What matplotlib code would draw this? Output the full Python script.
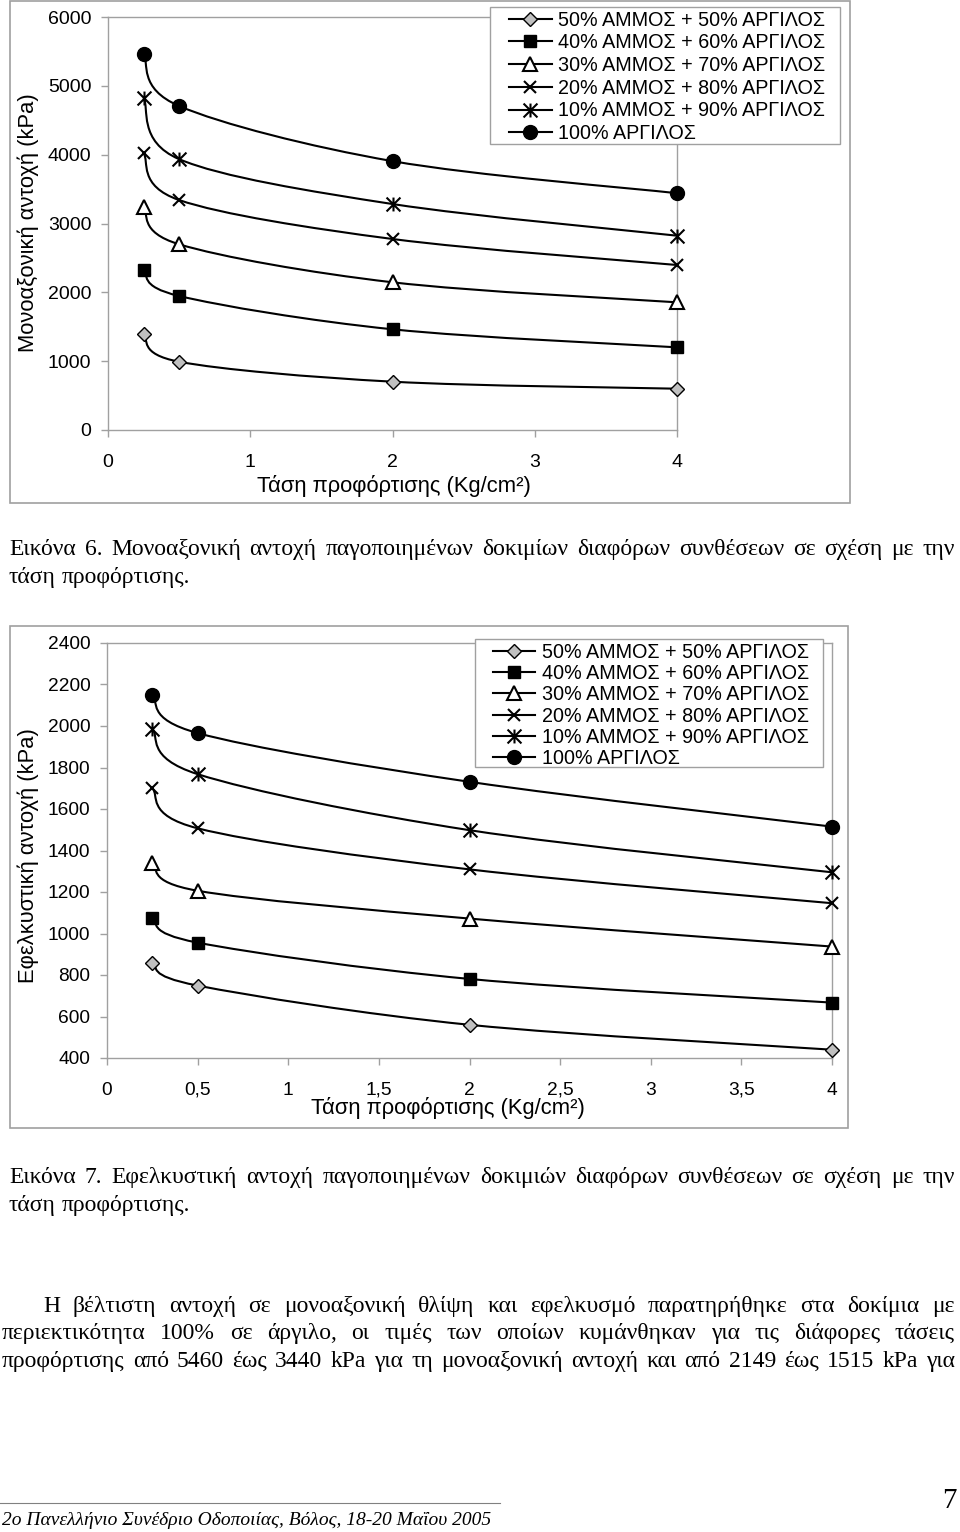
import numpy as np
import matplotlib.pyplot as plt
from matplotlib.path import Path
from matplotlib.patches import PathPatch, Rectangle
from matplotlib.lines import Line2D

plt.rcParams['font.family'] = ['Liberation Sans', 'DejaVu Sans']

# τάση προφόρτισης (Kg/cm2)
x_top = [0.25, 0.5, 2, 4]
x_bot = [0.25, 0.5, 2, 4]

labels = ['50% ΑΜΜΟΣ + 50% ΑΡΓΙΛΟΣ', '40% ΑΜΜΟΣ + 60% ΑΡΓΙΛΟΣ',
          '30% ΑΜΜΟΣ + 70% ΑΡΓΙΛΟΣ', '20% ΑΜΜΟΣ + 80% ΑΡΓΙΛΟΣ',
          '10% ΑΜΜΟΣ + 90% ΑΡΓΙΛΟΣ', '100% ΑΡΓΙΛΟΣ']

# μονοαξονική αντοχή (kPa)
uc_50 = [1390, 992, 702, 600]
uc_40 = [2324, 1947, 1463, 1201]
uc_30 = [3240, 2698, 2146, 1855]
uc_20 = [4020, 3341, 2775, 2397]
uc_10 = [4828, 3935, 3283, 2823]
uc_100 = [5460, 4707, 3906, 3440]

# εφελκυστική αντοχή (kPa)
t_50 = [857, 749, 560, 440]
t_40 = [1074, 956, 781, 667]
t_30 = [1341, 1206, 1072, 937]
t_20 = [1699, 1507, 1309, 1146]
t_10 = [1986, 1768, 1498, 1295]
t_100 = [2149, 1966, 1731, 1515]

star = Path([(0, -1), (0, 1), (-1, -1), (1, 1), (-1, 1), (1, -1)],
            [Path.MOVETO, Path.LINETO, Path.MOVETO, Path.LINETO, Path.MOVETO, Path.LINETO])
styles = [dict(marker='D', ms=7.5, mfc='#c0c0c0', mec='k', mew=1.0),
          dict(marker='s', ms=9, mfc='k', mec='k', mew=1.0),
          dict(marker='^', ms=10, mfc='white', mec='k', mew=1.5),
          dict(marker='x', ms=9, mfc='k', mec='k', mew=1.5),
          dict(marker=star, ms=10, mfc='k', mec='k', mew=1.5),
          dict(marker='o', ms=10, mfc='k', mec='k', mew=1.0)]

W, H = 960, 1532
fig = plt.figure(figsize=(W / 100, H / 100), dpi=100)
bg = fig.add_axes([0, 0, 1, 1], zorder=0)
bg.set_xlim(0, W)
bg.set_ylim(H, 0)
bg.axis('off')
# επικάλυψη για τα υπομνήματα
ov = fig.add_axes([0, 0, 1, 1], zorder=3)
ov.set_xlim(0, W)
ov.set_ylim(H, 0)
ov.axis('off')


def smooth(ax, xs, ys):
    # καμπύλη τύπου Excel (Catmull-Rom -> Bezier)
    p = np.column_stack([xs, ys]).astype(float)
    p = np.vstack([p[0], p, p[-1]])
    verts = [tuple(p[1])]
    codes = [Path.MOVETO]
    for i in range(1, len(p) - 2):
        c1 = p[i] + (p[i + 1] - p[i - 1]) / 6
        c2 = p[i + 1] - (p[i + 2] - p[i]) / 6
        verts += [tuple(c1), tuple(c2), tuple(p[i + 1])]
        codes += [Path.CURVE4] * 3
    ax.add_patch(PathPatch(Path(verts, codes), fill=False, lw=1.5, ec='k', zorder=3))


def px_axes(l, t, r, b):
    return fig.add_axes([l / W, 1 - b / H, (r - l) / W, (b - t) / H], zorder=1)


def style_axes(ax, fs):
    for s in ax.spines.values():
        s.set_color('#a0a0a0')
        s.set_linewidth(1.0)
    ax.tick_params(direction='out', length=5, width=1.0, color='#a0a0a0',
                   labelsize=fs, pad=7)
    ax.tick_params(axis='x', pad=12)


def draw_chart(ax, xs, series):
    for ys, st in zip(series, styles):
        smooth(ax, xs, ys)
        ax.plot(xs, ys, ls='none', zorder=4, clip_on=False, **st)


handles = [Line2D([], [], color='k', lw=1.5, **st) for st in styles]

# ---- Εικόνα 6 ----
bg.add_patch(Rectangle((10, 1), 840, 502, fill=False, ec='#a0a0a0', lw=1.2))
ax1 = px_axes(108, 17, 677, 430)
draw_chart(ax1, x_top, [uc_50, uc_40, uc_30, uc_20, uc_10, uc_100])
ax1.set_xlim(0, 4)
ax1.set_ylim(0, 6000)
ax1.set_xticks([0, 1, 2, 3, 4])
ax1.set_yticks(range(0, 6001, 1000))
style_axes(ax1, 14)
bg.text(28, 223, 'Μονοαξονική αντοχή (kPa)', rotation=90, fontsize=15.8,
        ha='center', va='center')
bg.text(394, 486, 'Τάση προφόρτισης (Kg/cm²)', fontsize=15.8, ha='center', va='center')

ov.add_patch(Rectangle((490, 7), 350, 137, fc='white', ec='#a0a0a0', lw=1.0, zorder=1))
leg1 = ov.legend(handles, labels, loc='upper left', bbox_to_anchor=(509 / W, 1 - 10.5 / H),
                 bbox_transform=fig.transFigure, frameon=False, fontsize=14.2,
                 borderpad=0, borderaxespad=0, handlelength=2.18, handletextpad=0.3,
                 labelspacing=0.19)
ov.add_artist(leg1)

# ---- Εικόνα 7 ----
bg.add_patch(Rectangle((10, 626), 838, 502, fill=False, ec='#a0a0a0', lw=1.2))
ax2 = px_axes(107, 643, 832, 1058)
draw_chart(ax2, x_bot, [t_50, t_40, t_30, t_20, t_10, t_100])
ax2.set_xlim(0, 4)
ax2.set_ylim(400, 2400)
ax2.set_xticks(np.arange(0, 4.01, 0.5))
ax2.set_xticklabels(['0', '0,5', '1', '1,5', '2', '2,5', '3', '3,5', '4'])
ax2.set_yticks(range(400, 2401, 200))
style_axes(ax2, 13.8)
bg.text(28, 856, 'Εφελκυστική αντοχή (kPa)', rotation=90, fontsize=15.8,
        ha='center', va='center')
bg.text(448, 1108, 'Τάση προφόρτισης (Kg/cm²)', fontsize=15.8, ha='center', va='center')

ov.add_patch(Rectangle((475, 639), 348, 128, fc='white', ec='#a0a0a0', lw=1.0, zorder=1))
leg2 = ov.legend(handles, labels, loc='upper left', bbox_to_anchor=(493 / W, 1 - 642.5 / H),
                 bbox_transform=fig.transFigure, frameon=False, fontsize=14.2,
                 borderpad=0, borderaxespad=0, handlelength=2.13, handletextpad=0.35,
                 labelspacing=0.12)

# ---- κείμενο σελίδας ----
renderer = fig.canvas.get_renderer()
SERIF = 'Liberation Serif'
FS = 17


def line_text(words_line, y, x0, x1, fs=FS, justify=True):
    # y: κέντρο γραμμής, κείμενο στη γραμμή βάσης
    base = y + 6
    words = words_line.split(' ')
    ts = [bg.text(0, base, w, fontsize=fs, family=SERIF, va='baseline') for w in words]
    ws = [t.get_window_extent(renderer).width for t in ts]
    if justify and len(words) > 1:
        gap = (x1 - x0 - sum(ws)) / (len(words) - 1)
    else:
        gap = fs * 100 / 72 * 0.25
    x = x0
    for t, w in zip(ts, ws):
        t.set_x(x)
        x += w + gap


line_text('Εικόνα 6. Μονοαξονική αντοχή παγοποιημένων δοκιμίων διαφόρων συνθέσεων σε σχέση με την',
          549, 9, 955)
line_text('τάση προφόρτισης.', 577, 9, 955, justify=False)
line_text('Εικόνα 7. Εφελκυστική αντοχή παγοποιημένων δοκιμιών διαφόρων συνθέσεων σε σχέση με την',
          1177, 9, 955)
line_text('τάση προφόρτισης.', 1205, 9, 955, justify=False)

line_text('Η βέλτιστη αντοχή σε μονοαξονική θλίψη και εφελκυσμό παρατηρήθηκε στα δοκίμια με',
          1306, 43, 955)
line_text('περιεκτικότητα 100% σε άργιλο, οι τιμές των οποίων κυμάνθηκαν για τις διάφορες τάσεις',
          1333, 2, 955)
line_text('προφόρτισης από 5460 έως 3440 kPa για τη μονοαξονική αντοχή και από 2149 έως 1515 kPa για',
          1361, 2, 955)

bg.plot([0, 500], [1503, 1503], color='#808080', lw=0.8)
bg.text(2, 1525, '2ο Πανελλήνιο Συνέδριο Οδοποιίας, Βόλος, 18-20 Μαΐου 2005',
        fontsize=14, family=SERIF, style='italic', va='baseline')
bg.text(957, 1508, '7', fontsize=21, family=SERIF, ha='right', va='baseline')

fig.savefig('out.png', dpi=100, facecolor='white')
